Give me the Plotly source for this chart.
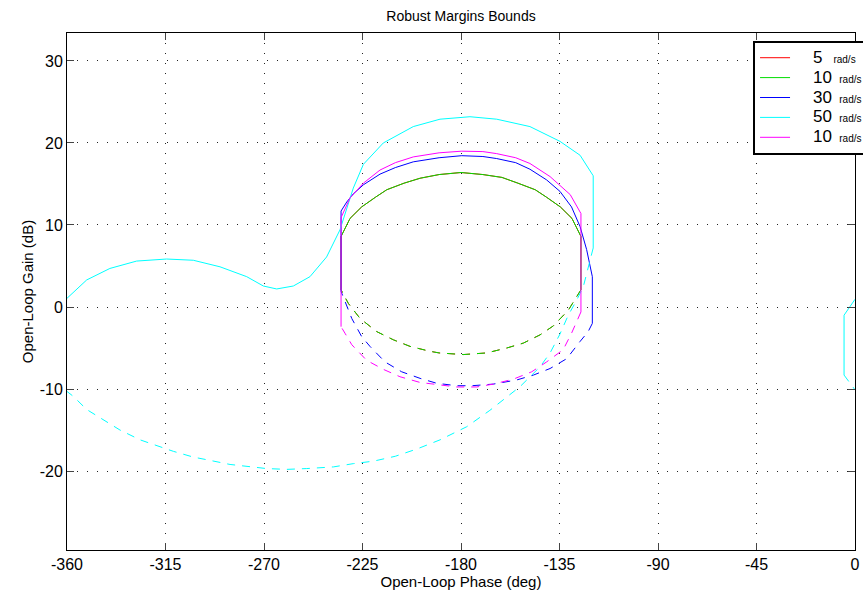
import plotly.graph_objects as go

# ---------------- data ----------------
legend_names = ["5", "10", "30", "50", "10"]
unit = "rad/s"
colors = ["#ff0000", "#00dd00", "#0000ff", "#00ffff", "#ff00ff"]

# 5 rad/s and 10 rad/s (almost identical contours)
rg_solid_phase = [-234.8, -234.8, -230.7, -225.4, -219.0, -213.9, -206.0, -198.7, -190.0, -180.0,
                  -170.0, -161.3, -154.0, -146.1, -141.0, -134.6, -129.3, -125.2, -125.2]
rg_solid_gain = [2.1, 8.6, 10.8, 12.2, 13.4, 14.3, 15.1, 15.7, 16.15, 16.4,
                 16.15, 15.8, 15.1, 14.3, 13.4, 12.2, 10.8, 8.6, 2.1]
rg_dash_phase = [-125.2, -126.4, -131.0, -137.8, -143.9, -151.5, -159.1, -168.3, -179.0, -190.0,
                 -194.2, -203.3, -210.9, -218.5, -226.1, -231.5, -234.8]
rg_dash_gain = [2.1, 1.6, -0.4, -2.3, -3.4, -4.4, -5.0, -5.6, -5.8, -5.6,
                -5.4, -4.8, -4.0, -3.0, -1.4, 0.45, 2.1]

# 30 rad/s
b_solid_phase = [-234.8, -234.8, -232.2, -229.2, -224.6, -217.0, -210.0, -201.8, -190.0, -179.7,
                 -170.0, -163.7, -155.0, -148.5, -140.9, -134.8, -129.5, -125.6, -122.6, -120.0, -120.0]
b_solid_gain = [1.9, 11.7, 12.8, 13.8, 14.9, 16.2, 17.0, 17.7, 18.2, 18.45,
                18.35, 18.1, 17.6, 16.8, 15.5, 14.1, 12.2, 9.8, 7.0, 3.7, -2.0]
b_dash_phase = [-120.0, -121.9, -125.6, -131.7, -139.3, -146.9, -154.6, -165.2, -175.0, -182.0,
                -191.1, -198.7, -207.1, -214.7, -221.6, -225.4, -229.9, -234.0, -234.8]
b_dash_gain = [-2.0, -3.0, -4.2, -6.3, -7.5, -8.3, -8.9, -9.4, -9.6, -9.6,
               -9.3, -8.7, -7.9, -6.7, -4.8, -3.6, -1.4, 1.46, 1.9]

# 50 rad/s
c_solid_phase = [-360.0, -351.0, -340.4, -328.2, -314.5, -302.3, -290.1, -277.9, -270.3, -264.2,
                 -256.6, -249.0, -241.4, -235.3, -229.2, -224.6, -215.5, -201.8, -189.6, -175.9,
                 -163.7, -148.5, -134.8, -125.6, -119.6, -119.6]
c_solid_gain = [1.06, 3.3, 4.7, 5.6, 5.85, 5.7, 4.9, 3.7, 2.56, 2.2,
                2.56, 3.7, 6.1, 9.4, 14.5, 17.4, 20.0, 22.0, 22.9, 23.2,
                22.9, 22.0, 20.2, 18.5, 16.0, 7.2]
c_dash_phase = [-119.6, -121.9, -124.1, -127.1, -131.0, -134.8, -139.3, -143.9, -153.0, -166.8,
                -177.4, -189.6, -200.0, -210.0, -220.0, -229.2, -238.3, -250.5, -259.6, -268.8,
                -276.4, -285.5, -294.7, -302.3, -311.4, -317.5, -326.6, -335.8, -343.4, -351.0,
                -357.1, -360.0]
c_dash_gain = [7.2, 4.9, 2.5, 0.85, -1.0, -3.3, -5.6, -7.3, -9.7, -12.6,
               -14.6, -16.2, -17.3, -18.2, -18.8, -19.1, -19.5, -19.7, -19.8, -19.7,
               -19.5, -19.2, -18.7, -18.3, -17.6, -17.0, -16.2, -15.0, -13.8, -12.5,
               -10.9, -10.3]
c_solid2_phase = [0.0, -5.0, -5.0]
c_solid2_gain = [0.94, -1.0, -8.3]
c_dash2_phase = [-5.0, -2.0, 0.0]
c_dash2_gain = [-8.3, -9.3, -10.1]

# 10 rad/s (last entry)
m_solid_phase = [-234.8, -234.8, -230.7, -224.6, -217.0, -210.0, -201.8, -190.0, -179.7, -170.0,
                 -163.7, -155.0, -148.5, -139.3, -130.1, -125.2, -125.2]
m_solid_gain = [-2.4, 10.9, 13.3, 15.1, 16.7, 17.6, 18.3, 18.8, 19.0, 18.95,
                18.7, 18.2, 17.5, 15.9, 13.7, 11.4, -0.6]
m_dash_phase = [-125.2, -127.2, -129.5, -133.3, -140.9, -147.7, -156.1, -165.2, -172.8, -182.0,
                -191.1, -198.7, -207.9, -215.5, -223.1, -229.9, -233.0, -234.8]
m_dash_gain = [-0.6, -1.8, -3.2, -5.2, -6.7, -7.9, -8.8, -9.4, -9.75, -9.75,
               -9.5, -9.2, -8.5, -7.6, -6.5, -4.6, -3.2, -2.4]

x_ticks = [-360, -315, -270, -225, -180, -135, -90, -45, 0]
y_ticks = [-20, -10, 0, 10, 20, 30]

# ---------------- figure ----------------
FONT = "Liberation Sans, Arial, sans-serif"
DASH = "8px,7px"

series = [
    (0, [(rg_solid_phase, rg_solid_gain)], [(rg_dash_phase, rg_dash_gain)]),
    (1, [(rg_solid_phase, rg_solid_gain)], [(rg_dash_phase, rg_dash_gain)]),
    (2, [(b_solid_phase, b_solid_gain)], [(b_dash_phase, b_dash_gain)]),
    (3, [(c_solid_phase, c_solid_gain), (c_solid2_phase, c_solid2_gain)],
        [(c_dash_phase, c_dash_gain), (c_dash2_phase, c_dash2_gain)]),
    (4, [(m_solid_phase, m_solid_gain)], [(m_dash_phase, m_dash_gain)]),
]

fig = go.Figure()
for idx, solids, dashes in series:
    num = legend_names[idx]
    pad = "&nbsp;" * 5
    tail = "&nbsp;&nbsp;&nbsp;" if len(num) == 1 else "&nbsp;&nbsp;"
    name = (pad + "<span style='font-size:17px'>" + num + "</span>" + tail +
            "<span style='font-size:10px'>" + unit + "</span>")
    first = True
    for px, gy in solids:
        fig.add_trace(go.Scatter(
            x=px, y=gy, mode="lines", name=name, legendgroup="g%d" % idx,
            showlegend=first, line=dict(color=colors[idx], width=1),
            hoverinfo="skip"))
        first = False
    for px, gy in dashes:
        fig.add_trace(go.Scatter(
            x=px, y=gy, mode="lines", name=name, legendgroup="g%d" % idx,
            showlegend=False, line=dict(color=colors[idx], width=1, dash=DASH),
            hoverinfo="skip"))

axis_common = dict(
    showline=True, linecolor="black", linewidth=1, mirror="ticks",
    ticks="inside", ticklen=7, tickcolor="#444", tickwidth=1,
    showgrid=True, gridcolor="#222", gridwidth=1, griddash="1px,9px",
    zeroline=False, tickfont=dict(family=FONT, size=16, color="black"),
)

fig.update_xaxes(range=[-360, 0], tickvals=x_ticks, ticktext=[str(v) for v in x_ticks],
                 title=dict(text="Open-Loop Phase (deg)", font=dict(family=FONT, size=15, color="black"),
                            standoff=2),
                 **axis_common)
fig.update_yaxes(range=[-29.63, 33.41], tickvals=y_ticks, ticktext=[str(v) for v in y_ticks],
                 title=dict(text="Open-Loop Gain (dB)", font=dict(family=FONT, size=15, color="black"),
                            standoff=2),
                 **axis_common)

fig.update_layout(
    width=863, height=596,
    margin=dict(l=67, r=8, t=33, b=46, autoexpand=False),
    paper_bgcolor="white", plot_bgcolor="white",
    title=dict(text="Robust Margins Bounds", x=0.5, xref="paper", xanchor="center",
               y=0.973, yanchor="middle", font=dict(family=FONT, size=14, color="black")),
    legend=dict(x=0.8706, y=0.985, xanchor="left", yanchor="top",
                bgcolor="white", bordercolor="black", borderwidth=2,
                font=dict(family=FONT, size=13, color="black"),
                tracegroupgap=0, itemwidth=30),
    showlegend=True,
)

fig.write_html("out.html")
